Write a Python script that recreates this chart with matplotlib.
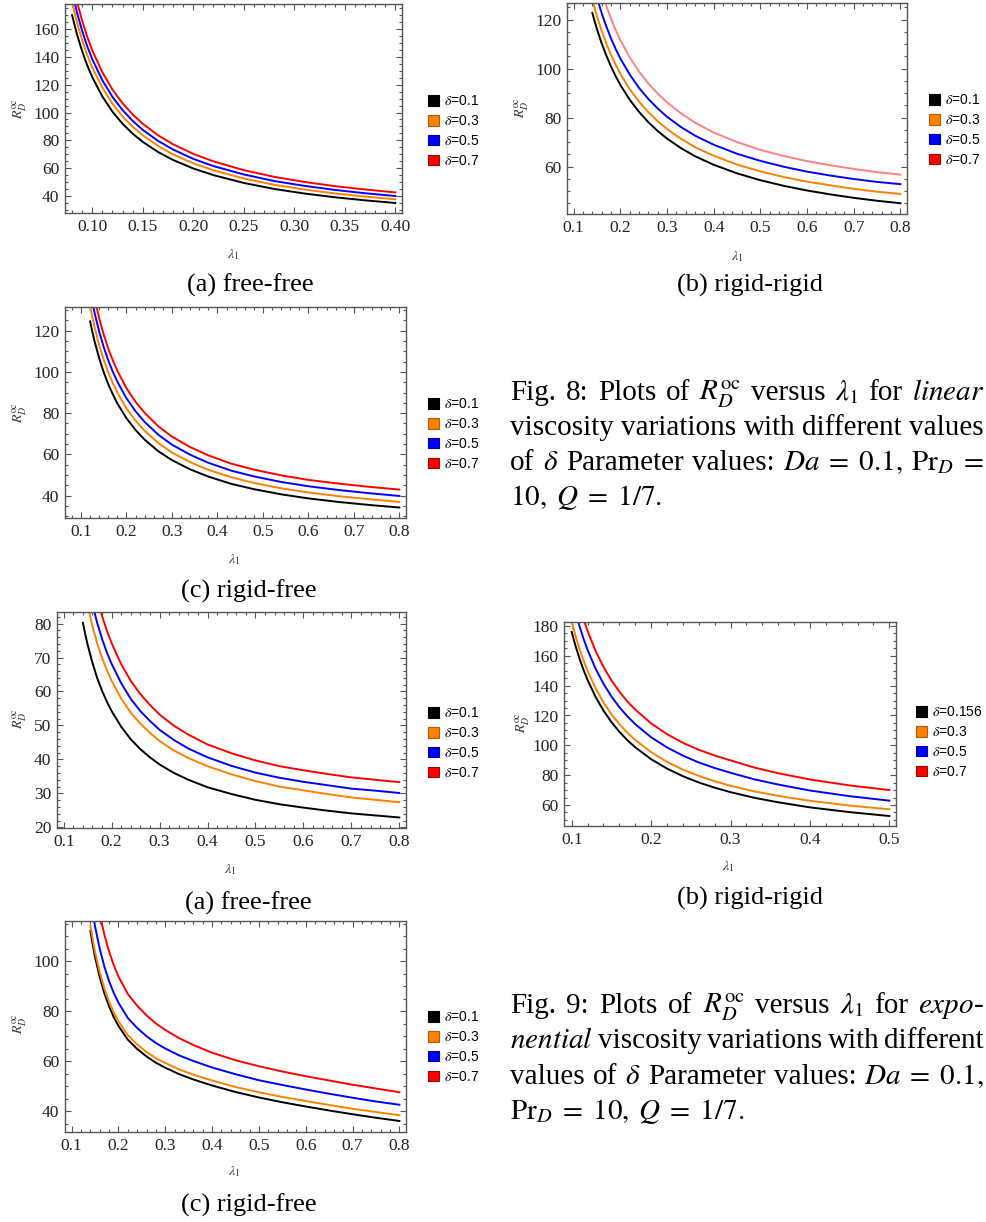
import matplotlib

matplotlib.use("Agg")
import matplotlib.pyplot as plt
from matplotlib.patches import Patch
from matplotlib.ticker import MultipleLocator

plt.rcParams["mathtext.fontset"] = "stix"
plt.rcParams["font.family"] = ["Liberation Serif", "DejaVu Serif"]

# ---- Fig. 8 (linear viscosity) ----
lam_8a = [0.08, 0.085, 0.09, 0.095, 0.10, 0.11, 0.12, 0.13, 0.14, 0.15,
          0.165, 0.18, 0.20, 0.22, 0.25, 0.28, 0.31, 0.34, 0.37, 0.40]
r8a_d01 = [170.0, 155.8, 144.0, 133.9, 125.4, 111.5, 100.6, 91.9, 84.8, 78.9,
           71.7, 65.9, 59.8, 55.0, 49.4, 45.1, 41.8, 39.1, 36.9, 35.0]
r8a_d03 = [179.4, 164.4, 152.0, 141.4, 132.4, 117.8, 106.4, 97.2, 89.8, 83.6,
           76.0, 69.9, 63.5, 58.5, 52.6, 48.1, 44.7, 41.9, 39.6, 37.6]
r8a_d05 = [187.0, 171.5, 158.6, 147.6, 138.3, 123.1, 111.2, 101.7, 94.0, 87.5,
           79.7, 73.4, 66.7, 61.5, 55.5, 50.8, 47.3, 44.4, 42.0, 40.0]
r8a_d07 = [195.5, 179.3, 165.9, 154.4, 144.7, 128.9, 116.5, 106.6, 98.6, 91.9,
           83.7, 77.2, 70.3, 64.9, 58.6, 53.8, 50.1, 47.1, 44.7, 42.6]

lam_8b = [0.14, 0.145, 0.15, 0.16, 0.17, 0.18, 0.19, 0.20, 0.22, 0.24, 0.26, 0.28,
          0.30, 0.33, 0.36, 0.40, 0.45, 0.50, 0.55, 0.60, 0.65, 0.70, 0.75, 0.80]
r8b_d01 = [122.7, 119.3, 116.1, 110.3, 105.3, 100.8, 96.9, 93.3, 87.3, 82.3, 78.1, 74.5,
           71.4, 67.5, 64.2, 60.7, 57.2, 54.4, 52.1, 50.2, 48.6, 47.2, 46.0, 45.0]
r8b_d03 = [128.2, 124.7, 121.4, 115.4, 110.2, 105.6, 101.6, 97.8, 91.6, 86.5, 82.2, 78.5,
           75.3, 71.3, 67.9, 64.4, 60.8, 58.0, 55.7, 53.8, 52.3, 50.9, 49.7, 48.8]
r8b_d05 = [136.2, 132.5, 129.0, 122.6, 117.2, 112.3, 108.0, 104.1, 97.6, 92.1, 87.6, 83.7,
           80.3, 76.1, 72.6, 68.9, 65.2, 62.3, 59.9, 57.9, 56.3, 54.9, 53.7, 52.8]
r8b_d07 = [146.0, 142.0, 138.3, 131.5, 125.6, 120.4, 115.8, 111.6, 104.6, 98.8, 93.9, 89.8,
           86.2, 81.7, 77.9, 73.9, 70.0, 66.8, 64.3, 62.2, 60.5, 59.0, 57.7, 56.7]

lam_8c = [0.12, 0.125, 0.13, 0.14, 0.15, 0.16, 0.17, 0.18, 0.20, 0.22, 0.24,
          0.27, 0.30, 0.34, 0.38, 0.43, 0.48, 0.54, 0.60, 0.67, 0.74, 0.80]
r8c_d01 = [124.5, 119.4, 114.7, 106.6, 99.8, 94.0, 89.1, 84.7, 77.5, 71.8, 67.1,
           61.5, 57.2, 52.7, 49.2, 45.7, 43.1, 40.6, 38.6, 36.8, 35.3, 34.2]
r8c_d03 = [132.0, 126.6, 121.6, 113.1, 105.9, 99.8, 94.6, 89.9, 82.3, 76.3, 71.4,
           65.5, 60.9, 56.2, 52.5, 48.9, 46.1, 43.5, 41.5, 39.6, 38.1, 36.9]
r8c_d05 = [139.4, 133.8, 128.5, 119.5, 112.0, 105.5, 100.1, 95.2, 87.2, 80.9, 75.7,
           69.5, 64.7, 59.8, 55.9, 52.1, 49.3, 46.6, 44.5, 42.6, 41.0, 39.8]
r8c_d07 = [146.9, 141.0, 135.5, 126.0, 118.1, 111.3, 105.6, 100.5, 92.1, 85.5, 80.1,
           73.6, 68.6, 63.5, 59.5, 55.5, 52.6, 49.8, 47.6, 45.7, 44.1, 42.9]

# ---- Fig. 9 (exponential viscosity) ----
lam_9a = [0.14, 0.145, 0.15, 0.16, 0.17, 0.18, 0.19, 0.20, 0.22, 0.24, 0.26, 0.28,
          0.30, 0.33, 0.36, 0.40, 0.45, 0.50, 0.55, 0.60, 0.65, 0.70, 0.75, 0.80]
r9a_d01 = [80.2, 76.8, 73.7, 68.4, 63.9, 60.2, 57.0, 54.2, 49.6, 45.9, 43.0, 40.6,
           38.5, 36.0, 34.0, 31.8, 29.8, 28.1, 26.8, 25.8, 24.9, 24.1, 23.5, 22.9]
r9a_d03 = [92.6, 88.8, 85.2, 79.2, 74.1, 69.9, 66.3, 63.1, 57.9, 53.7, 50.5, 47.8,
           45.4, 42.6, 40.4, 38.0, 35.6, 33.6, 32.0, 30.9, 29.8, 28.8, 28.1, 27.4]
r9a_d05 = [100.3, 96.0, 92.2, 85.6, 80.1, 75.5, 71.5, 68.1, 62.4, 57.8, 54.2, 51.3,
           48.7, 45.7, 43.2, 40.6, 38.1, 36.1, 34.6, 33.4, 32.4, 31.4, 30.8, 30.1]
r9a_d07 = [109.1, 104.5, 100.3, 93.2, 87.2, 82.2, 77.9, 74.2, 68.0, 63.1, 59.2, 56.0,
           53.2, 49.9, 47.3, 44.4, 41.8, 39.7, 38.0, 36.8, 35.7, 34.7, 34.0, 33.3]

lam_9b = [0.10, 0.105, 0.11, 0.115, 0.12, 0.13, 0.14, 0.15, 0.16, 0.17, 0.18,
          0.20, 0.22, 0.24, 0.26, 0.28, 0.30, 0.33, 0.36, 0.40, 0.45, 0.50]
r9b_d0156 = [176.0, 166.3, 157.9, 150.4, 143.8, 132.5, 123.3, 115.6, 109.1, 103.5, 98.7,
             90.7, 84.4, 79.3, 75.1, 71.6, 68.6, 64.8, 61.8, 58.4, 55.2, 52.6]
r9b_d03 = [183.0, 173.1, 164.4, 156.7, 149.9, 138.3, 128.8, 120.9, 114.2, 108.5, 103.6,
           95.4, 88.9, 83.7, 79.5, 75.9, 72.9, 69.1, 66.1, 62.8, 59.6, 57.1]
r9b_d05 = [199.8, 189.0, 179.7, 171.3, 164.0, 151.5, 141.3, 132.8, 125.6, 119.5, 114.2,
           105.4, 98.6, 93.1, 88.5, 84.8, 81.6, 77.2, 73.7, 69.7, 65.9, 62.9]
r9b_d07 = [214.7, 203.3, 193.3, 184.5, 176.7, 163.4, 152.6, 143.6, 136.0, 129.5, 124.0,
           114.7, 107.5, 101.7, 97.0, 93.2, 89.9, 85.1, 81.3, 77.1, 73.1, 70.0]

lam_9c = [0.14, 0.145, 0.15, 0.16, 0.17, 0.18, 0.19, 0.20, 0.22, 0.24, 0.26, 0.28,
          0.30, 0.33, 0.36, 0.40, 0.45, 0.50, 0.55, 0.60, 0.65, 0.70, 0.75, 0.80]
r9c_d01 = [112.0, 106.5, 101.5, 93.5, 87.0, 81.8, 77.5, 74.0, 68.5, 64.8, 61.8, 59.3,
           57.3, 54.7, 52.6, 50.2, 47.6, 45.4, 43.5, 41.8, 40.2, 38.7, 37.3, 36.0]
r9c_d03 = [114.2, 108.7, 103.6, 95.5, 88.9, 83.7, 79.4, 75.8, 70.3, 66.6, 63.6, 61.1,
           59.2, 56.6, 54.5, 52.2, 49.6, 47.5, 45.6, 44.0, 42.4, 40.9, 39.6, 38.3]
r9c_d05 = [125.4, 119.3, 113.8, 104.9, 97.7, 91.9, 87.2, 83.3, 77.2, 73.2, 69.9, 67.2,
           65.0, 62.2, 60.0, 57.4, 54.7, 52.3, 50.4, 48.6, 46.9, 45.3, 43.8, 42.5]
r9c_d07 = [142.2, 135.2, 128.9, 118.7, 110.4, 103.8, 98.3, 93.8, 86.8, 82.1, 78.2, 75.0,
           72.4, 69.1, 66.4, 63.3, 60.3, 57.9, 55.8, 53.9, 52.2, 50.5, 49.0, 47.5]

labels_std = ["0.1", "0.3", "0.5", "0.7"]
labels_9b = ["0.156", "0.3", "0.5", "0.7"]

COLORS = ["#000000", "#ff8000", "#0000ff", "#ff0000"]
EDGES = ["#000000", "#b35a00", "#0000b0", "#b00000"]

W, H = 987, 1222


def box(l, r, t, b):
    return [l / W, 1 - b / H, (r - l) / W, (b - t) / H]


def fx(x):
    return x / W


def fy(y):
    return 1 - y / H


panels = [
    dict(pos=(65, 402, 4, 213), lam=lam_8a, ys=[r8a_d01, r8a_d03, r8a_d05, r8a_d07],
         xlim=(0.073, 0.4066), ylim=(27.8, 178), xmaj=0.05, xmin=0.01, ymaj=20, ymin=5,
         xfmt="%.2f", labels=labels_std, colors=COLORS,
         leg=(428, 131), xl=(233, 255), yl=(20, 108), cap="(a) free-free", capxy=(250, 292)),
    dict(pos=(567, 907, 3, 214), lam=lam_8b, ys=[r8b_d01, r8b_d03, r8b_d05, r8b_d07],
         xlim=(0.0857, 0.814), ylim=(40.6, 126.8), xmaj=0.1, xmin=0.02, ymaj=20, ymin=5,
         xfmt="%.1f", labels=labels_std, colors=COLORS[:3] + ["#ff8080"],
         leg=(929, 130), xl=(737, 257), yl=(522, 107), cap="(b) rigid-rigid", capxy=(750, 292)),
    dict(pos=(65, 406, 307, 518), lam=lam_8c, ys=[r8c_d01, r8c_d03, r8c_d05, r8c_d07],
         xlim=(0.0648, 0.8147), ylim=(29.1, 131.5), xmaj=0.1, xmin=0.02, ymaj=20, ymin=5,
         xfmt="%.1f", labels=labels_std, colors=COLORS,
         leg=(428, 434), xl=(234, 560), yl=(20, 412), cap="(c) rigid-free", capxy=(249, 598)),
    dict(pos=(57, 406, 612, 828), lam=lam_9a, ys=[r9a_d01, r9a_d03, r9a_d05, r9a_d07],
         xlim=(0.086, 0.814), ylim=(19.8, 83.4), xmaj=0.1, xmin=0.02, ymaj=10, ymin=2,
         xfmt="%.1f", labels=labels_std, colors=COLORS,
         leg=(428, 743), xl=(230, 870), yl=(20, 718), cap="(a) free-free", capxy=(248, 910)),
    dict(pos=(564, 896, 622, 826), lam=lam_9b, ys=[r9b_d0156, r9b_d03, r9b_d05, r9b_d07],
         xlim=(0.0903, 0.5084), ylim=(45.9, 182.7), xmaj=0.1, xmin=0.02, ymaj=20, ymin=5,
         xfmt="%.1f", labels=labels_9b, colors=COLORS,
         leg=(916, 742), xl=(728, 867), yl=(523, 722), cap="(b) rigid-rigid", capxy=(750, 905)),
    dict(pos=(65, 406, 921, 1132), lam=lam_9c, ys=[r9c_d01, r9c_d03, r9c_d05, r9c_d07],
         xlim=(0.0858, 0.814), ylim=(31.6, 116), xmaj=0.1, xmin=0.02, ymaj=20, ymin=5,
         xfmt="%.1f", labels=labels_std, colors=COLORS,
         leg=(428, 1047), xl=(234, 1172), yl=(20, 1023), cap="(c) rigid-free", capxy=(249, 1212)),
]

fig = plt.figure(figsize=(W / 100, H / 100), dpi=100)

for p in panels:
    ax = fig.add_axes(box(*p["pos"]))
    for y, c in zip(p["ys"], p["colors"]):
        ax.plot(p["lam"], y, color=c, lw=1.4, solid_joinstyle="round")
    ax.set_xlim(*p["xlim"])
    ax.set_ylim(*p["ylim"])
    ax.xaxis.set_major_locator(MultipleLocator(p["xmaj"]))
    ax.xaxis.set_minor_locator(MultipleLocator(p["xmin"]))
    ax.yaxis.set_major_locator(MultipleLocator(p["ymaj"]))
    ax.yaxis.set_minor_locator(MultipleLocator(p["ymin"]))
    ax.xaxis.set_major_formatter(plt.FormatStrFormatter(p["xfmt"]))
    ax.yaxis.set_major_formatter(plt.FormatStrFormatter("%d"))
    ax.tick_params(which="both", direction="in", top=True, right=True, color="#555555",
                   labelsize=12.5, labelcolor="#222222", width=0.8)
    ax.tick_params(which="major", length=4.5, pad=4)
    ax.tick_params(which="minor", length=2.2)
    for s in ax.spines.values():
        s.set_color("#555555")
        s.set_linewidth(1.0)

    handles = [Patch(facecolor=c, edgecolor=e, lw=0.8) for c, e in zip(COLORS, EDGES)]
    lx, ly = p["leg"]
    fig.legend(handles, ["$\\delta$=" + s for s in p["labels"]],
               loc="center left", bbox_to_anchor=(fx(lx), fy(ly)),
               frameon=False, borderpad=0, borderaxespad=0,
               handlelength=0.8, handleheight=0.8, handletextpad=0.35,
               labelspacing=0.42, prop={"family": "Liberation Sans", "size": 10})

    fig.text(fx(p["xl"][0]), fy(p["xl"][1]), "$\\lambda_1$", ha="center", va="center",
             fontsize=10, color="#333333")
    fig.text(fx(p["yl"][0]), fy(p["yl"][1]), "$R_D^{\\mathrm{oc}}$", ha="center", va="center",
             rotation=90, fontsize=10, color="#333333")
    fig.text(fx(p["capxy"][0]), fy(p["capxy"][1]), p["cap"], ha="center", va="baseline",
             fontsize=19)

CAP_FS = 21
X0, X1 = 510, 984
renderer = fig.canvas.get_renderer()


def justified(y, tokens):
    texts = [fig.text(0, 0, t, fontsize=CAP_FS, va="baseline", ha="left") for t in tokens]
    widths = [t.get_window_extent(renderer).width for t in texts]
    gap = (X1 - X0 - sum(widths)) / (len(tokens) - 1)
    x = X0
    for t, w in zip(texts, widths):
        t.set_position((fx(x), fy(y)))
        x += w + gap


cap8 = [
    ["Fig.", "8:", "Plots", "of", "$R_D^{\\mathrm{oc}}$", "versus", "$\\lambda_1$", "for",
     "$\\mathit{linear}$"],
    ["viscosity", "variations", "with", "different", "values"],
    ["of", "$\\delta$", "Parameter", "values:", "$Da\\;=\\;0.1,$", "$\\mathrm{Pr}_D\\;=$"],
]
cap9 = [
    ["Fig.", "9:", "Plots", "of", "$R_D^{\\mathrm{oc}}$", "versus", "$\\lambda_1$", "for",
     "$\\mathit{expo}$-"],
    ["$\\mathit{nential}$", "viscosity", "variations", "with", "different"],
    ["values", "of", "$\\delta$", "Parameter", "values:", "$Da\\;=\\;0.1,$"],
]
for i, toks in enumerate(cap8):
    justified(400 + 35 * i, toks)
fig.text(fx(X0), fy(505), "$10,\\; Q\\;=\\;1/7.$", fontsize=CAP_FS, va="baseline")
for i, toks in enumerate(cap9):
    justified(1013 + 35.5 * i, toks)
fig.text(fx(X0), fy(1119.5), "$\\mathrm{Pr}_D\\;=\\;10,\\; Q\\;=\\;1/7.$", fontsize=CAP_FS,
         va="baseline")

fig.savefig("out.png", dpi=100)
